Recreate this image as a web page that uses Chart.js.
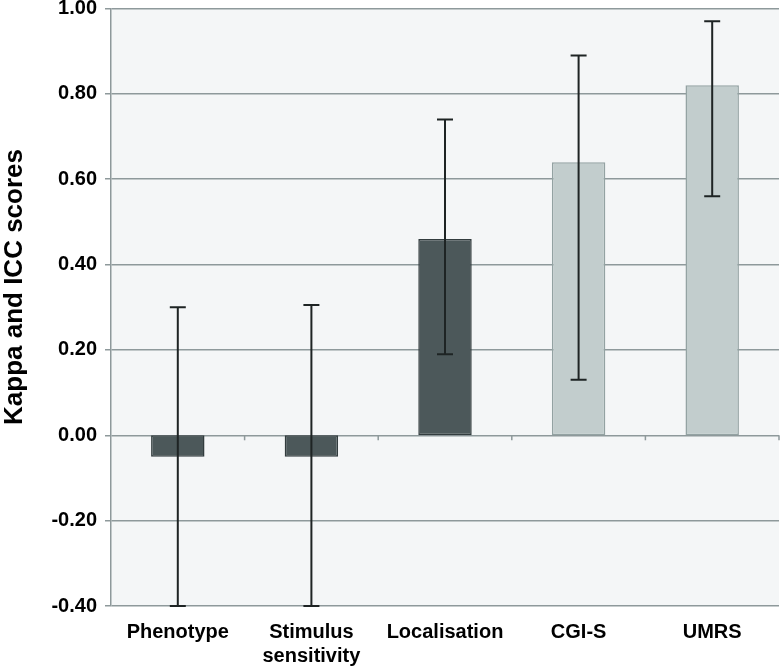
<!DOCTYPE html>
<html>
<head>
<meta charset="utf-8">
<script src="https://cdn.jsdelivr.net/npm/chart.js@4/dist/chart.umd.min.js"></script>
<style>
  html, body { margin: 0; padding: 0; background: #ffffff; }
  #wrap { width: 780px; height: 666px; }
</style>
</head>
<body>
<div id="wrap"><canvas id="myChart" width="780" height="666"></canvas></div>
<script>
// dados
var categories = ['Phenotype', ['Stimulus', 'sensitivity'], 'Localisation', 'CGI-S', 'UMRS'];
var scores = [-0.05, -0.05, 0.46, 0.64, 0.82];
var lowerCI = [-0.40, -0.40, 0.19, 0.13, 0.56];
var upperCI = [0.30, 0.305, 0.74, 0.89, 0.97];
var barColors = ['#4c585a', '#4c585a', '#4c585a', '#c2cdcd', '#c2cdcd'];
var barBorders = ['#323c3e', '#323c3e', '#323c3e', '#93a2a2', '#93a2a2'];
var yTitle = 'Kappa and ICC scores';

var gridColor = '#8e999b';
var font = "'Liberation Sans', Arial, sans-serif";

// fundo da área do gráfico
var plotBackground = {
  id: 'plotBackground',
  beforeDraw: function (chart) {
    var a = chart.chartArea, c = chart.ctx;
    c.save();
    c.fillStyle = '#f4f6f7';
    c.fillRect(a.left, a.top, a.right - a.left, a.bottom - a.top);
    c.restore();
  }
};

// título do eixo y (desenhado à mão para acertar a posição)
var yAxisTitle = {
  id: 'yAxisTitle',
  afterDraw: function (chart) {
    var c = chart.ctx;
    c.save();
    c.translate(15, 287);
    c.rotate(-Math.PI / 2);
    c.fillStyle = '#000';
    c.font = 'bold 26px ' + font;
    c.textAlign = 'center';
    c.textBaseline = 'middle';
    c.fillText(yTitle, 0, 0);
    c.restore();
  }
};

// marcas do eixo das categorias na linha do zero
var zeroTicks = {
  id: 'zeroTicks',
  afterDatasetsDraw: function (chart) {
    var x = chart.scales.x, y = chart.scales.y, c = chart.ctx;
    var y0 = y.getPixelForValue(0);
    var step = x.getPixelForValue(1) - x.getPixelForValue(0);
    c.save();
    c.strokeStyle = gridColor;
    c.lineWidth = 1.5;
    for (var i = 0; i < categories.length; i++) {
      var px = x.getPixelForValue(i) + step / 2;
      c.beginPath();
      c.moveTo(px, y0);
      c.lineTo(px, y0 + 5);
      c.stroke();
    }
    c.restore();
  }
};

// barras de erro
var errorBars = {
  id: 'errorBars',
  afterDatasetsDraw: function (chart) {
    var x = chart.scales.x, y = chart.scales.y, c = chart.ctx;
    c.save();
    c.strokeStyle = '#1e2424';
    c.lineWidth = 2;
    for (var i = 0; i < scores.length; i++) {
      var px = x.getPixelForValue(i);
      var top = y.getPixelForValue(upperCI[i]);
      var bot = y.getPixelForValue(lowerCI[i]);
      c.beginPath();
      c.moveTo(px, top);
      c.lineTo(px, bot);
      c.moveTo(px - 8, top);
      c.lineTo(px + 8, top);
      c.moveTo(px - 8, bot);
      c.lineTo(px + 8, bot);
      c.stroke();
    }
    c.restore();
  }
};

var ctx = document.getElementById('myChart').getContext('2d');
var myChart = new Chart(ctx, {
  type: 'bar',
  data: {
    labels: categories,
    datasets: [{
      data: scores,
      backgroundColor: barColors,
      borderColor: barBorders,
      borderWidth: 1.5,
      borderSkipped: false,
      barPercentage: 0.8,
      categoryPercentage: 0.5
    }]
  },
  options: {
    responsive: false,
    animation: false,
    layout: { padding: { top: 8, right: 1, left: 0, bottom: 0 } },
    plugins: {
      legend: { display: false },
      tooltip: { enabled: false }
    },
    scales: {
      x: {
        grid: { display: false },
        border: { display: false },
        ticks: {
          color: '#000',
          padding: 6,
          font: { family: font, size: 20, weight: 'bold', lineHeight: 1.2 }
        },
        afterFit: function (s) { s.height = 60; }
      },
      y: {
        min: -0.4,
        max: 1.0,
        ticks: {
          stepSize: 0.2,
          color: '#000',
          padding: 8,
          font: { family: font, size: 20, weight: 'bold', lineHeight: 0.05 },
          callback: function (v) {
            if (Math.abs(v) < 1e-9) v = 0;
            return v.toFixed(2);
          }
        },
        grid: { color: gridColor, lineWidth: 1.5, tickLength: 6 },
        border: { color: gridColor, width: 1.5 },
        afterFit: function (s) { s.width = 111; }
      }
    }
  },
  plugins: [plotBackground, zeroTicks, errorBars, yAxisTitle]
});
</script>
</body>
</html>
